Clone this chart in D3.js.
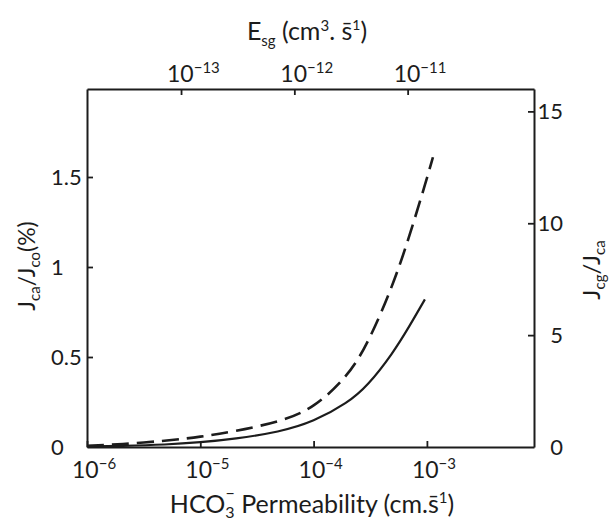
<!DOCTYPE html>
<html><head><meta charset="utf-8">
<script src="https://cdn.jsdelivr.net/npm/d3@7"></script>
<style>
body{margin:0;background:#fff}
text{font-family:Lato,"Open Sans",sans-serif;fill:#1c1c1c}
</style>
</head><body>
<svg id="c" width="611" height="520"></svg>
<script>
// ---- data ----
const solidPerm = [1e-6, 2e-6, 5e-6, 1e-5, 2e-5, 5e-5, 1e-4, 2e-4, 3e-4, 5e-4, 7e-4, 9.6e-4];
const solidJcaJco = [0.003, 0.006, 0.013, 0.026, 0.045, 0.083, 0.14, 0.245, 0.34, 0.52, 0.67, 0.82];
const dashedPerm = [1e-6, 2e-6, 5e-6, 1e-5, 2e-5, 5e-5, 1e-4, 2e-4, 3e-4, 5e-4, 7e-4, 1e-3, 1.13e-3];
const dashedJcgJca = [0.05, 0.12, 0.28, 0.45, 0.7, 1.12, 1.72, 3.15, 4.6, 7.2, 9.4, 12.0, 12.95];
const bottomTicks = [1e-6, 1e-5, 1e-4, 1e-3];
const bottomExp = ["−6", "−5", "−4", "−3"];
const topTicks = [1e-13, 1e-12, 1e-11];
const topExp = ["−13", "−12", "−11"];
const leftTicks = [0, 0.5, 1, 1.5];
const leftLabels = ["0", "0.5", "1", "1.5"];
const rightTicks = [0, 5, 10, 15];
const rightLabels = ["0", "5", "10", "15"];

// ---- layout ----
const svg = d3.select("#c");
const L = 87, R = 534, T = 89, B = 447;
const decade = 113.3;
const x = d3.scaleLog().domain([1e-6, 1e-6 * Math.pow(10, (R - L) / decade)]).range([L, R]);
const eShift = Math.pow(10, -7.83);
const xTop = d3.scaleLog().domain(x.domain().map(d => d * eShift)).range([L, R]);
const yL = d3.scaleLinear().domain([0, 2]).range([B, B - 360]);
const yR = d3.scaleLinear().domain([0, 16]).range([B, T]);

const ink = "#1c1c1c";
function styleAxis(g) {
  g.selectAll(".domain").attr("stroke", ink).attr("stroke-width", 2);
  g.selectAll(".tick line").attr("stroke", ink).attr("stroke-width", 1.8);
  g.selectAll(".tick text").remove();
}
svg.append("g").attr("transform", `translate(0,${B})`)
  .call(d3.axisBottom(x).tickValues(bottomTicks).tickSizeInner(-6).tickSizeOuter(0).tickFormat(""))
  .call(styleAxis);
svg.append("g").attr("transform", `translate(0,${T})`)
  .call(d3.axisTop(xTop).tickValues(topTicks).tickSizeInner(-6).tickSizeOuter(0).tickFormat(""))
  .call(styleAxis);
svg.append("g").attr("transform", `translate(${L},0)`)
  .call(d3.axisLeft(yL.copy().domain([0, (B - T) / 180]).range([B, T])).tickValues(leftTicks.slice(1)).tickSizeInner(-6).tickSizeOuter(0).tickFormat(""))
  .call(styleAxis);
svg.append("g").attr("transform", `translate(${R},0)`)
  .call(d3.axisRight(yR).tickValues(rightTicks.slice(1)).tickSizeInner(-6).tickSizeOuter(0).tickFormat(""))
  .call(styleAxis);

// bottom tick labels
const bl = svg.append("g").selectAll("text").data(bottomTicks).join("text")
  .attr("x", d => x(d) - 15).attr("y", 478).attr("font-size", 23);
bl.append("tspan").text("10");
bl.append("tspan").attr("font-size", 15).attr("dy", -9).text((d, i) => bottomExp[i]);

// top tick labels
const tl = svg.append("g").selectAll("text").data(topTicks).join("text")
  .attr("x", d => xTop(d) - 14).attr("y", 82).attr("font-size", 23);
tl.append("tspan").text("10");
tl.append("tspan").attr("font-size", 15).attr("dy", -9).text((d, i) => topExp[i]);

// left tick labels
svg.append("g").selectAll("text").data(leftTicks).join("text")
  .attr("x", 51).attr("y", d => yL(d) + 8).attr("font-size", 22)
  .text((d, i) => leftLabels[i]);

// right tick labels
svg.append("g").selectAll("text").data(rightTicks).join("text")
  .attr("x", 563).attr("y", d => yR(d) + 8).attr("font-size", 22).attr("text-anchor", "end")
  .text((d, i) => rightLabels[i]);

// curves
const solid = d3.line().x((d, i) => x(solidPerm[i])).y(d => yL(d)).curve(d3.curveBasis);
svg.append("path").attr("d", solid(solidJcaJco))
  .attr("fill", "none").attr("stroke", ink).attr("stroke-width", 2.2);
const dashed = d3.line().x((d, i) => x(dashedPerm[i])).y(d => yR(d)).curve(d3.curveBasis);
svg.append("path").attr("d", dashed(dashedJcgJca))
  .attr("fill", "none").attr("stroke", ink).attr("stroke-width", 2.6)
  .attr("stroke-dasharray", "17,8");

// titles
const bt = svg.append("text").attr("x", 312).attr("y", 513).attr("font-size", 25).attr("text-anchor", "middle");
bt.append("tspan").text("HCO");
bt.append("tspan").attr("font-size", 16).attr("dy", 5).text("3");
bt.append("tspan").attr("font-size", 16).attr("dx", -9).attr("dy", -19).text("−");
bt.append("tspan").attr("dy", 14).text("  Permeability  (cm.s\u0304");
bt.append("tspan").attr("font-size", 15).attr("dy", -10).text("1");
bt.append("tspan").attr("dy", 10).text(")");

const tt = svg.append("text").attr("x", 307).attr("y", 40).attr("font-size", 25).attr("text-anchor", "middle");
tt.append("tspan").text("E");
tt.append("tspan").attr("font-size", 15).attr("dy", 6).text("sg");
tt.append("tspan").attr("dy", -6).text(" (cm");
tt.append("tspan").attr("font-size", 15).attr("dy", -9).text("3");
tt.append("tspan").attr("dy", 9).text(". s\u0304");
tt.append("tspan").attr("font-size", 14).attr("dy", -10).text("1");
tt.append("tspan").attr("dy", 10).text(")");

const lt = svg.append("text").attr("transform", "translate(35,266) rotate(-90)").attr("font-size", 23).attr("text-anchor", "middle");
lt.append("tspan").text("J");
lt.append("tspan").attr("font-size", 15).attr("dy", 5).text("ca");
lt.append("tspan").attr("dy", -5).text("/J");
lt.append("tspan").attr("font-size", 15).attr("dy", 5).text("co");
lt.append("tspan").attr("dy", -5).text("(%)");

const rt = svg.append("text").attr("transform", "translate(600,270) rotate(-90)").attr("font-size", 24).attr("text-anchor", "middle");
rt.append("tspan").text("J");
rt.append("tspan").attr("font-size", 15).attr("dy", 5).text("cg");
rt.append("tspan").attr("dy", -5).text("/J");
rt.append("tspan").attr("font-size", 15).attr("dy", 5).text("ca");
</script>
</body></html>
